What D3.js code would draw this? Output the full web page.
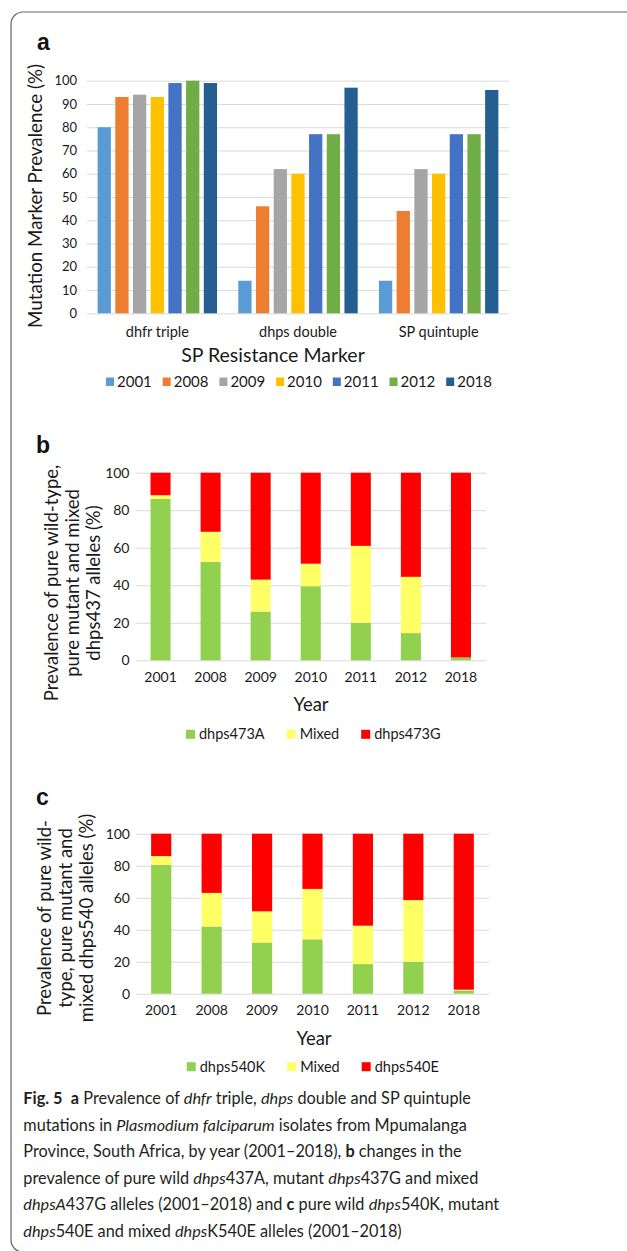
<!DOCTYPE html>
<html>
<head>
<meta charset="utf-8">
<script src="https://cdn.jsdelivr.net/npm/d3@7"></script>
<style>
  body { margin: 0; background: #fff; }
  svg text { font-family: Lato, "Open Sans", sans-serif; fill: #1a1a1a; }
</style>
</head>
<body>
<svg id="fig" width="627" height="1251"></svg>
<script>
// ---- panel a: SP resistance markers by year
var markers = ["dhfr triple", "dhps double", "SP quintuple"];
var years = ["2001", "2008", "2009", "2010", "2011", "2012", "2018"];
var yearColors = ["#5b9bd5", "#ed7d31", "#a5a5a5", "#ffc000", "#4472c4", "#70ad47", "#255e91"];
var dhfrTriple = [80, 93, 94, 93, 99, 100, 99];
var dhpsDouble = [14, 46, 62, 60, 77, 77, 97];
var spQuintuple = [14, 44, 62, 60, 77, 77, 96];
var ticksA = [0, 10, 20, 30, 40, 50, 60, 70, 80, 90, 100];

// ---- panels b and c: wild / mixed / mutant alleles (%)
var alleleColors = ["#92d050", "#ffff66", "#ff0000"];
var labels437 = ["dhps473A", "Mixed", "dhps473G"];
var wild437 = [86, 52.5, 26, 39.5, 20, 14.5, 1.5];
var mixed437 = [2, 16, 17, 12, 41, 30, 0];
var mutant437 = [12, 31.5, 57, 48.5, 39, 55.5, 98.5];
var labels540 = ["dhps540K", "Mixed", "dhps540E"];
var wild540 = [80.5, 42, 32, 34, 18.5, 20, 2];
var mixed540 = [5.5, 21, 19.5, 31.5, 24, 38.5, 0.5];
var mutant540 = [14, 37, 48.5, 34.5, 57.5, 41.5, 97.5];
var ticksBC = [0, 20, 40, 60, 80, 100];

var svg = d3.select("#fig");

// figure frame (left/top edges, rest runs off the page)
svg.append("rect")
  .attr("x", 11).attr("y", 12)
  .attr("width", 700).attr("height", 1240)
  .attr("rx", 12)
  .attr("fill", "none")
  .attr("stroke", "#666")
  .attr("stroke-width", 1.2);

function panelLetter(letter, x, y) {
  svg.append("text")
    .attr("x", x).attr("y", y)
    .style("font-family", "'Liberation Sans', Arial, sans-serif")
    .style("font-weight", "bold")
    .style("font-size", "23px")
    .style("fill", "#111")
    .text(letter);
}

function styleGrid(g) {
  g.select(".domain").remove();
  g.selectAll(".tick line").attr("stroke", "#d9d9d9").attr("stroke-width", 1);
}

// ================= panel a =================
panelLetter("a", 37, 50);

var seriesA = markers.map(function(m, i) {
  return { marker: m, values: [dhfrTriple, dhpsDouble, spQuintuple][i] };
});

var xA = d3.scaleBand().domain(markers).range([87, 509]);
var xA1 = d3.scaleBand().domain(years).range([0, xA.bandwidth()])
  .paddingInner(0.25).paddingOuter(0.6);
var yA = d3.scaleLinear().domain([0, 100]).range([313.3, 80.7]);

svg.append("g")
  .attr("transform", "translate(87,0)")
  .call(d3.axisLeft(yA).tickValues(ticksA).tickSize(-(509 - 87)).tickPadding(10))
  .call(styleGrid)
  .call(function(g) {
    g.selectAll("text").attr("font-family", null).attr("font-size", null)
      .style("font-size", "13px");
  });

var groupsA = svg.append("g").selectAll("g")
  .data(seriesA)
  .enter().append("g")
  .attr("transform", function(d) { return "translate(" + xA(d.marker) + ",0)"; });

groupsA.selectAll("rect")
  .data(function(d) { return d.values.map(function(v, i) { return { year: years[i], value: v, color: yearColors[i] }; }); })
  .enter().append("rect")
  .attr("x", function(d) { return xA1(d.year); })
  .attr("width", xA1.bandwidth())
  .attr("y", function(d) { return yA(d.value); })
  .attr("height", function(d) { return yA(0) - yA(d.value); })
  .attr("fill", function(d) { return d.color; });

svg.append("g")
  .attr("transform", "translate(0,313.3)")
  .call(d3.axisBottom(xA).tickSize(0).tickPadding(13.5))
  .call(function(g) {
    g.select(".domain").remove();
    g.selectAll("text").attr("font-family", null).attr("font-size", null)
      .style("font-size", "14.5px");
  });

svg.append("text")
  .attr("x", 273).attr("y", 362)
  .attr("text-anchor", "middle")
  .style("font-size", "19.5px")
  .text("SP Resistance Marker");

svg.append("text")
  .attr("transform", "translate(42,196) rotate(-90)")
  .attr("text-anchor", "middle")
  .style("font-size", "18.8px")
  .text("Mutation Marker Prevalence (%)");

// legend a
var legA = svg.append("g").selectAll("g")
  .data(years)
  .enter().append("g")
  .attr("transform", function(d, i) { return "translate(" + (106 + i * 56.7) + ",387)"; });
legA.append("rect")
  .attr("x", 0).attr("y", -9.5).attr("width", 8).attr("height", 8.5)
  .attr("fill", function(d, i) { return yearColors[i]; });
legA.append("text")
  .attr("x", 11).attr("y", 0)
  .style("font-size", "15px")
  .text(function(d) { return d; });

// ================= panels b, c =================
function stackedPanel(cfg) {
  panelLetter(cfg.letter, cfg.letterX, cfg.letterY);

  var rows = years.map(function(yr, i) {
    return { year: yr, wild: cfg.wild[i], mixed: cfg.mixed[i], mutant: cfg.mutant[i] };
  });
  var keys = ["wild", "mixed", "mutant"];
  var stacked = d3.stack().keys(keys)(rows);

  var x = d3.scaleBand().domain(years).range(cfg.xRange).paddingInner(0.6).paddingOuter(0.3);
  var y = d3.scaleLinear().domain([0, 100]).range([cfg.y0, cfg.y100]);

  svg.append("g")
    .attr("transform", "translate(" + cfg.xRange[0] + ",0)")
    .call(d3.axisLeft(y).tickValues(ticksBC).tickSize(-(cfg.xRange[1] - cfg.xRange[0])).tickPadding(6))
    .call(styleGrid)
    .call(function(g) {
      g.selectAll("text").attr("font-family", null).attr("font-size", null)
        .style("font-size", "14px");
    });

  svg.append("g").selectAll("g")
    .data(stacked)
    .enter().append("g")
    .attr("fill", function(d, i) { return alleleColors[i]; })
    .selectAll("rect")
    .data(function(d) { return d; })
    .enter().append("rect")
    .attr("x", function(d) { return x(d.data.year); })
    .attr("width", x.bandwidth())
    .attr("y", function(d) { return y(d[1]); })
    .attr("height", function(d) { return y(d[0]) - y(d[1]); });

  svg.append("g")
    .attr("transform", "translate(0," + cfg.y0 + ")")
    .call(d3.axisBottom(x).tickSize(0).tickPadding(11.5))
    .call(function(g) {
      g.select(".domain").remove();
      g.selectAll("text").attr("font-family", null).attr("font-size", null)
        .style("font-size", "14px");
    });

  svg.append("text")
    .attr("x", cfg.yearX).attr("y", cfg.yearY)
    .attr("text-anchor", "middle")
    .style("font-size", "18.5px")
    .text("Year");

  cfg.title.forEach(function(line, i) {
    svg.append("text")
      .attr("transform", "translate(" + cfg.titleX[i] + "," + cfg.titleY + ") rotate(-90)")
      .attr("text-anchor", "middle")
      .style("font-size", "18.5px")
      .text(line);
  });

  // legend, entries flow left to right
  var lx = cfg.legendX;
  cfg.labels.forEach(function(lab, i) {
    svg.append("rect")
      .attr("x", lx).attr("y", cfg.legendY - 9.5)
      .attr("width", 9).attr("height", 9)
      .attr("fill", alleleColors[i]);
    var t = svg.append("text")
      .attr("x", lx + 13).attr("y", cfg.legendY)
      .style("font-size", "14.5px")
      .text(lab);
    lx = lx + 13 + t.node().getComputedTextLength() + 22;
  });
}

stackedPanel({
  letter: "b", letterX: 36, letterY: 453,
  wild: wild437, mixed: mixed437, mutant: mutant437, labels: labels437,
  xRange: [135.5, 486], y0: 660.3, y100: 472.7,
  yearX: 311, yearY: 711,
  title: ["Prevalence of pure wild-type,", "pure mutant and mixed", "dhps437 alleles (%)"],
  titleX: [58, 79, 100], titleY: 583,
  legendX: 186, legendY: 739.3
});

stackedPanel({
  letter: "c", letterX: 36, letterY: 805,
  wild: wild540, mixed: mixed540, mutant: mutant540, labels: labels540,
  xRange: [136, 489], y0: 993.7, y100: 833.7,
  yearX: 314, yearY: 1045,
  title: ["Prevalence of pure wild-", "type, pure mutant and", "mixed dhps540 alleles (%)"],
  titleX: [51, 72, 93], titleY: 918,
  legendX: 186.7, legendY: 1071.7
});

// ================= caption =================
var captionLines = [
  [["b", "Fig. 5"], ["n", "\u00a0 "], ["b", "a"], ["n", " Prevalence of "], ["i", "dhfr"], ["n", " triple, "], ["i", "dhps"], ["n", " double and SP quintuple"]],
  [["n", "mutations in "], ["i", "Plasmodium falciparum"], ["n", " isolates from Mpumalanga"]],
  [["n", "Province, South Africa, by year (2001\u20132018), "], ["b", "b"], ["n", " changes in the"]],
  [["n", "prevalence of pure wild "], ["i", "dhps"], ["n", "437A, mutant "], ["i", "dhps"], ["n", "437G and mixed"]],
  [["i", "dhpsA"], ["n", "437G alleles (2001\u20132018) and "], ["b", "c"], ["n", " pure wild "], ["i", "dhps"], ["n", "540K, mutant"]],
  [["i", "dhps"], ["n", "540E and mixed "], ["i", "dhps"], ["n", "K540E alleles (2001\u20132018)"]]
];

captionLines.forEach(function(parts, i) {
  var t = svg.append("text")
    .attr("x", 23.3).attr("y", 1104 + i * 26.5)
    .style("font-size", "16.3px")
    .style("fill", "#231f20");
  parts.forEach(function(p) {
    var s = t.append("tspan").text(p[1]);
    if (p[0] === "b") s.style("font-weight", "bold");
    if (p[0] === "i") s.style("font-style", "italic");
  });
});
</script>
</body>
</html>
